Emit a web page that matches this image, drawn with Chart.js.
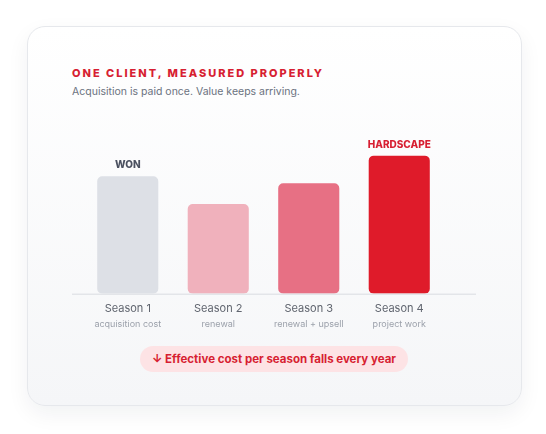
<!DOCTYPE html>
<html>
<head>
<meta charset="utf-8">
<script src="https://cdn.jsdelivr.net/npm/chart.js@4/dist/chart.umd.min.js"></script>
<style>
  html, body { margin: 0; padding: 0; background: #fff; }
  body { width: 546px; height: 434px; position: relative; overflow: hidden; font-family: Inter, "Noto Sans", sans-serif; }
  .card {
    position: absolute; left: 27px; top: 26px; width: 493px; height: 378px;
    border: 1px solid #e6e8ec; border-radius: 18px;
    background: linear-gradient(180deg, #ffffff 0%, #f5f6f8 100%);
    box-shadow: 0 8px 22px rgba(20, 30, 50, 0.06);
  }
  .title {
    position: absolute; left: 72px; top: 66px;
    font-size: 11px; font-weight: 800; letter-spacing: 2px; color: #d71f32;
  }
  .sub {
    position: absolute; left: 72px; top: 85px;
    font-size: 10.5px; color: #6b7280;
  }
  .pill {
    position: absolute; left: 140px; top: 346px; width: 268px; height: 26px;
    border-radius: 13px; background: #fde3e5; color: #d71f32;
    font-size: 11.5px; font-weight: 700; text-align: center; line-height: 26px;
  }
  canvas { position: absolute; left: 40px; top: 120px; }
</style>
</head>
<body>
<div class="card"></div>
<div class="title">ONE CLIENT, MEASURED PROPERLY</div>
<div class="sub">Acquisition is paid once. Value keeps arriving.</div>
<canvas id="barChart" width="460" height="220"></canvas>
<div class="pill">↓ Effective cost per season falls every year</div>
<script>
// chart data
const seasons = ["Season 1", "Season 2", "Season 3", "Season 4"];
const subLabels = ["acquisition cost", "renewal", "renewal + upsell", "project work"];
const values = [85, 65, 80, 100];
const topLabels = ["WON", "", "", "HARDSCAPE"];
const barColors = ["#dde0e6", "#f0b1bc", "#e77084", "#df1b2a"];
const topLabelColors = ["#4b5160", "", "", "#d71f32"];

// baseline, sub labels and labels above bars
const extras = {
  id: "extras",
  afterDraw(chart) {
    const ctx = chart.ctx;
    const x = chart.scales.x;
    const y = chart.scales.y;
    const base = y.getPixelForValue(0);
    ctx.save();
    ctx.strokeStyle = "#e3e5e9";
    ctx.lineWidth = 1.5;
    ctx.beginPath();
    ctx.moveTo(32, base + 0.5);
    ctx.lineTo(436, base + 0.5);
    ctx.stroke();

    ctx.textAlign = "center";
    ctx.textBaseline = "middle";
    ctx.font = "9px Inter";
    ctx.fillStyle = "#9ca1ab";
    subLabels.forEach((s, i) => {
      ctx.fillText(s, x.getPixelForTick(i), base + 30);
    });

    ctx.font = "800 10px Inter";
    const meta = chart.getDatasetMeta(0);
    topLabels.forEach((t, i) => {
      if (!t) return;
      ctx.fillStyle = topLabelColors[i];
      ctx.fillText(t, meta.data[i].x, meta.data[i].y - 11);
    });
    ctx.restore();
  }
};

new Chart(document.getElementById("barChart").getContext("2d"), {
  type: "bar",
  data: {
    labels: seasons,
    datasets: [{
      data: values,
      backgroundColor: barColors,
      borderRadius: 5,
      borderSkipped: false,
      categoryPercentage: 1,
      barPercentage: 0.675,
    }],
  },
  options: {
    responsive: false,
    animation: false,
    layout: { padding: { left: 42.5, right: 55.5, top: 8, bottom: 17 } },
    plugins: { legend: { display: false }, tooltip: { enabled: false } },
    scales: {
      x: {
        grid: { display: false, drawTicks: false },
        border: { display: false },
        ticks: { color: "#60656f", font: { family: "Inter", size: 11 }, padding: 8 },
      },
      y: { display: false, min: 0, max: 120 },
    },
  },
  plugins: [extras],
});
</script>
</body>
</html>
